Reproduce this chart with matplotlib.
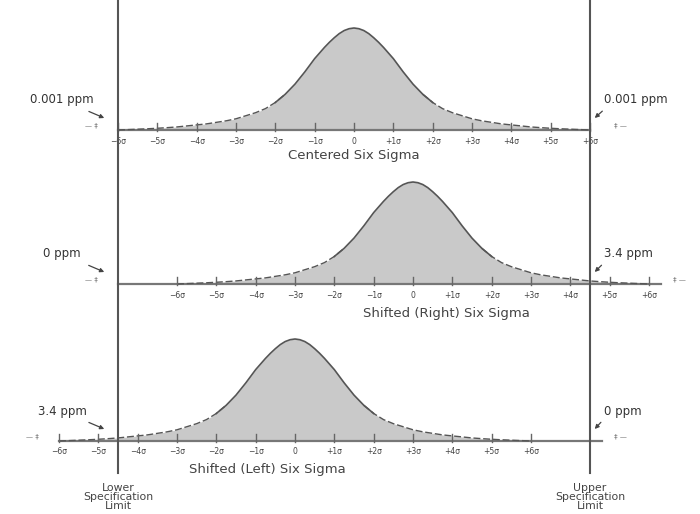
import numpy as np
import matplotlib
matplotlib.use("Agg")
import matplotlib.pyplot as plt

# ---- data ----
sigmas = list(range(-6, 7))
tick_labels = ["\u22126\u03c3", "\u22125\u03c3", "\u22124\u03c3", "\u22123\u03c3", "\u22122\u03c3", "\u22121\u03c3",
               "0", "+1\u03c3", "+2\u03c3", "+3\u03c3", "+4\u03c3", "+5\u03c3", "+6\u03c3"]
shifts = [0.0, 1.5, -1.5]                    # process mean, in sigma, relative to target
titles = ["Centered Six Sigma", "Shifted (Right) Six Sigma", "Shifted (Left) Six Sigma"]
left_ppm = ["0.001 ppm", "0 ppm", "3.4 ppm"]
right_ppm = ["0.001 ppm", "3.4 ppm", "0 ppm"]
spec_limits = [-6, 6]
# curve height (fraction of peak) at |z| sigma, as drawn
prof_z = [0, 0.125, 0.25, 0.375, 0.5, 0.625, 0.75, 0.875, 1.0, 1.125, 1.25, 1.375, 1.5,
          1.75, 2.0, 2.25, 2.5, 2.75, 3.0, 3.25, 3.5, 3.75, 4.0, 4.25, 4.5, 4.75,
          5.0, 5.25, 5.5, 5.75, 6.0]
prof_h = [1.0, 0.993, 0.975, 0.945, 0.905, 0.86, 0.81, 0.755, 0.70, 0.635, 0.57, 0.51, 0.45,
          0.35, 0.27, 0.21, 0.17, 0.14, 0.11, 0.09, 0.075, 0.06, 0.05, 0.04, 0.03, 0.023,
          0.017, 0.012, 0.008, 0.004, 0.0]

# ---- layout (pixel-ish vertical units, sigma horizontally) ----
PX = 39.33                       # pixels per sigma
X0 = 354                          # pixel of the target
base_y = [130, 284, 441]
peak_h = 102
title_dx = [0.0, 0.84, -0.7]
title_y = [156, 313, 470]
LINE = "#555555"
FILL = "#c9c9c9"

def sx(px):
    return (px - X0) / PX

fig = plt.figure(figsize=(7, 5.14), dpi=100)
ax = fig.add_axes([0, 0, 1, 1])
ax.set_xlim(sx(0), sx(700))
ax.set_ylim(514, 0)
ax.axis("off")

z = np.array(prof_z)
h = np.array(prof_h)
zz = np.concatenate([-z[::-1], z[1:]])
hh = np.concatenate([h[::-1], h[1:]])

for i, mu in enumerate(shifts):
    b = base_y[i]
    xs = zz + mu
    ys = b - peak_h * hh
    ax.fill_between(xs, ys, b, color=FILL, lw=0, zorder=1)
    core = np.abs(zz) <= 2.0
    ax.plot(xs[core], ys[core], color=LINE, lw=1.2, zorder=3)
    ax.plot(xs[zz <= -1.75], ys[zz <= -1.75], color=LINE, lw=1.0, ls=(0, (5, 2)), zorder=3)
    ax.plot(xs[zz >= 1.75], ys[zz >= 1.75], color=LINE, lw=1.0, ls=(0, (5, 2)), zorder=3)
    lo = min(spec_limits[0], mu - 6)
    hi = max(spec_limits[1], mu + 6) + (0.3 if mu != 0 else 0)
    ax.plot([lo, hi], [b, b], color="#777777", lw=1.6, zorder=2)
    for s, lab in zip(sigmas, tick_labels):
        ax.plot([s + mu, s + mu], [b - 7, b + 1], color="#666666", lw=1.0, zorder=4)
        ax.text(s + mu, b + 11, lab, ha="center", va="center", fontsize=5.5, color="#444444")
    ax.text(mu + title_dx[i], title_y[i], titles[i], ha="center", va="center",
            fontsize=9.5, color="#444444")

    # ppm callouts at the spec limits
    ax.annotate(left_ppm[i], xy=(spec_limits[0] - 0.35, b - 12), xytext=(sx(62), b - 30),
                ha="center", va="center", fontsize=8.5, color="#333333",
                arrowprops=dict(arrowstyle="-|>", color="#444444", lw=0.9,
                                mutation_scale=6, shrinkA=4, shrinkB=0))
    ax.annotate(right_ppm[i], xy=(spec_limits[1] + 0.12, b - 12), xytext=(sx(604), b - 30),
                ha="left", va="center", fontsize=8.5, color="#333333",
                arrowprops=dict(arrowstyle="-|>", color="#444444", lw=0.9,
                                mutation_scale=6, shrinkA=2, shrinkB=0,
                                relpos=(0.1, 0.2)))
    # small direction marks outside the limits
    lm = min(spec_limits[0], mu - 6) - 0.5
    rm = max(spec_limits[1], mu + 6) + 0.6
    ax.text(lm, b - 5, "\u2014 \u2021", ha="right", va="center", fontsize=5, color="#666666")
    ax.text(rm, b - 5, "\u2021 \u2014", ha="left", va="center", fontsize=5, color="#666666")

# specification limit lines
for s in spec_limits:
    ax.plot([s, s], [0, 473], color="#555555", lw=1.5, zorder=5)
ax.text(spec_limits[0], 497, "Lower\nSpecification\nLimit", ha="center", va="center",
        fontsize=7.8, linespacing=0.9, color="#444444")
ax.text(spec_limits[1], 497, "Upper\nSpecification\nLimit", ha="center", va="center",
        fontsize=7.8, linespacing=0.9, color="#444444")

fig.savefig("out.png", dpi=100)
